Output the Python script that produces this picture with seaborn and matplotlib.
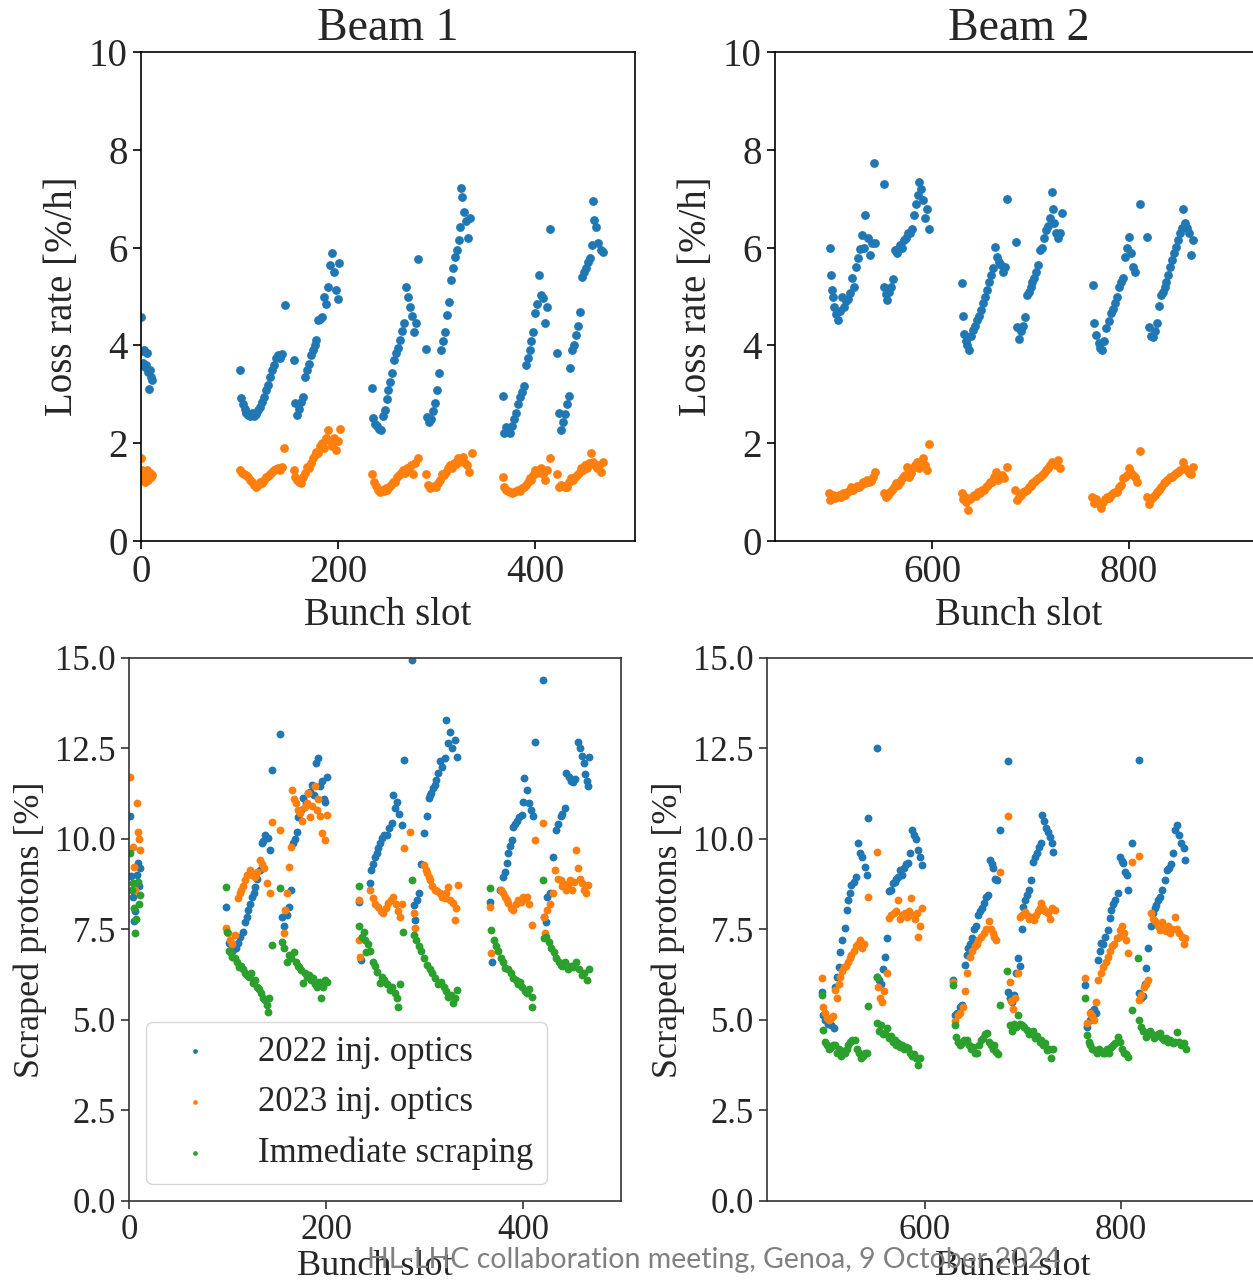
import matplotlib
matplotlib.use("Agg")
import matplotlib.pyplot as plt
import seaborn as sns

# ---- Beam 1, loss rate [%/h] ----
b1_loss22_x = ([0, 1, 2, 3, 4, 5, 6, 7, 8, 9, 10, 11]
               + [100, 101, 103, 105, 107, 109, 111, 113, 115, 117, 119, 121, 123, 125, 127, 129, 131, 133, 135, 137, 139, 141, 143, 146]
               + [155, 156, 158, 160, 162, 164, 166, 168, 170, 172, 174, 176, 178, 180, 182, 184, 186, 188, 190, 192, 194, 196, 198, 200, 201]
               + [234, 235, 237, 239, 241, 243, 245, 247, 249, 251, 253, 255, 257, 259, 261, 263, 265, 267, 269, 271, 273, 275, 277, 279, 281]
               + [289, 290, 292, 294, 296, 298, 300, 302, 304, 306, 308, 310, 312, 314, 316, 318, 320, 322, 324, 325, 326, 328, 330, 332, 334]
               + [367, 368, 370, 372, 374, 376, 378, 380, 382, 384, 386, 388, 390, 392, 394, 396, 398, 400, 402, 404, 406, 408, 410, 412, 415]
               + [422, 424, 426, 428, 430, 432, 434, 435, 437, 439, 441, 443, 445, 447, 449, 451, 453, 455, 457, 458, 459, 461, 463, 466, 469])
b1_loss22_y = ([4.59, 3.88, 3.65, 3.9, 3.55, 3.6, 3.85, 3.45, 3.11, 3.5, 3.35, 3.3]
               + [3.50, 2.92, 2.8, 2.7, 2.62, 2.58, 2.55, 2.62, 2.55, 2.6, 2.68, 2.75, 2.85, 2.95, 3.09, 3.2, 3.36, 3.5, 3.6, 3.74, 3.8, 3.75, 3.82, 4.83]
               + [3.70, 2.82, 2.58, 2.7, 2.85, 2.95, 3.36, 3.5, 3.63, 3.8, 3.91, 4.0, 4.11, 4.52, 4.55, 4.59, 5.0, 4.85, 5.2, 5.64, 5.88, 5.5, 5.14, 4.95, 5.68]
               + [3.12, 2.51, 2.4, 2.35, 2.3, 2.27, 2.55, 2.68, 2.9, 3.09, 3.25, 3.43, 3.7, 3.84, 3.95, 4.11, 4.3, 4.45, 5.2, 5.0, 4.79, 4.6, 4.28, 4.45, 5.76]
               + [3.92, 2.54, 2.44, 2.5, 2.65, 2.82, 3.09, 3.43, 3.91, 4.1, 4.28, 4.62, 4.89, 5.34, 5.58, 5.8, 5.95, 6.15, 6.43, 7.21, 7.04, 6.73, 6.55, 6.19, 6.60]
               + [2.97, 2.20, 2.33, 2.25, 2.2, 2.35, 2.5, 2.61, 2.8, 2.95, 3.05, 3.16, 3.6, 3.75, 3.91, 4.1, 4.28, 4.66, 4.85, 5.44, 5.03, 4.96, 4.45, 4.79, 6.38]
               + [3.85, 2.61, 2.27, 2.43, 2.6, 2.8, 2.97, 3.53, 3.91, 4.0, 4.21, 4.4, 4.69, 5.4, 5.5, 5.58, 5.7, 5.78, 6.05, 6.96, 6.56, 6.43, 6.1, 5.95, 5.92])

b1_loss23_x = ([0, 1, 2, 3, 4, 5, 6, 7, 8, 9, 10, 11]
               + [100, 102, 104, 107, 109, 111, 113, 115, 117, 119, 121, 123, 125, 127, 129, 131, 133, 135, 137, 139, 141, 143, 145]
               + [155, 156, 158, 160, 162, 164, 166, 168, 170, 172, 174, 176, 178, 180, 182, 184, 186, 188, 190, 192, 194, 196, 198, 200, 202]
               + [234, 236, 238, 240, 242, 244, 246, 248, 250, 252, 254, 256, 258, 260, 262, 264, 266, 268, 270, 272, 274, 276, 278, 281]
               + [289, 291, 293, 295, 297, 299, 301, 303, 305, 307, 309, 311, 313, 315, 317, 319, 321, 323, 325, 327, 329, 331, 333, 336]
               + [367, 368, 370, 372, 374, 376, 378, 380, 382, 384, 386, 388, 390, 392, 394, 396, 398, 400, 402, 404, 406, 408, 410, 412, 415]
               + [422, 424, 426, 428, 430, 432, 434, 436, 438, 440, 442, 444, 446, 448, 450, 452, 454, 456, 458, 460, 462, 464, 466, 469])
b1_loss23_y = ([1.70, 1.45, 1.4, 1.3, 1.2, 1.35, 1.45, 1.25, 1.3, 1.4, 1.3, 1.35]
               + [1.45, 1.4, 1.38, 1.35, 1.3, 1.25, 1.2, 1.15, 1.11, 1.15, 1.2, 1.18, 1.25, 1.3, 1.33, 1.38, 1.42, 1.45, 1.48, 1.5, 1.45, 1.52, 1.90]
               + [1.45, 1.3, 1.25, 1.2, 1.18, 1.3, 1.4, 1.52, 1.5, 1.6, 1.7, 1.75, 1.83, 1.8, 1.95, 2.0, 1.9, 2.1, 2.27, 2.05, 1.95, 2.1, 1.86, 2.05, 2.30]
               + [1.38, 1.2, 1.12, 1.05, 1.01, 1.05, 1.03, 1.08, 1.05, 1.1, 1.15, 1.21, 1.2, 1.3, 1.35, 1.4, 1.45, 1.4, 1.5, 1.45, 1.55, 1.38, 1.6, 1.69]
               + [1.38, 1.15, 1.08, 1.1, 1.12, 1.1, 1.18, 1.25, 1.38, 1.35, 1.42, 1.5, 1.55, 1.5, 1.6, 1.58, 1.69, 1.62, 1.65, 1.72, 1.6, 1.55, 1.42, 1.79]
               + [1.31, 1.1, 1.05, 1.02, 1.0, 0.98, 1.0, 1.02, 1.05, 1.03, 1.08, 1.1, 1.15, 1.2, 1.28, 1.25, 1.35, 1.45, 1.4, 1.45, 1.5, 1.38, 1.24, 1.45, 1.69]
               + [1.37, 1.1, 1.15, 1.12, 1.1, 1.11, 1.2, 1.28, 1.25, 1.3, 1.35, 1.4, 1.49, 1.45, 1.55, 1.5, 1.6, 1.79, 1.62, 1.55, 1.5, 1.55, 1.42, 1.62])

# ---- Beam 2, loss rate [%/h] ----
b2_loss22_x = ([496, 497, 498, 499, 501, 503, 505, 507, 509, 511, 513, 515, 517, 519, 521, 523, 525, 527, 529, 531, 532, 535, 537, 539, 542, 541, 551]
               + [551, 553, 554, 556, 558, 560, 562, 564, 566, 568, 570, 572, 574, 576, 578, 580, 582, 584, 586, 587, 589, 591, 593, 595, 597]
               + [630, 631, 632, 634, 636, 638, 640, 642, 644, 646, 648, 650, 652, 654, 656, 658, 660, 662, 664, 666, 668, 670, 672, 674, 676, 685]
               + [686, 688, 690, 692, 694, 696, 698, 700, 702, 704, 706, 708, 710, 712, 714, 716, 718, 720, 722, 723, 724, 726, 728, 730, 732]
               + [763, 764, 766, 769, 771, 773, 775, 777, 780, 782, 784, 786, 788, 790, 792, 794, 796, 798, 800, 802, 804, 806, 811, 818]
               + [820, 822, 824, 826, 828, 830, 832, 834, 836, 838, 840, 842, 844, 846, 848, 850, 852, 854, 855, 857, 859, 861, 863, 865])
b2_loss22_y = ([6.0, 5.44, 5.13, 5.0, 4.79, 4.65, 4.52, 4.7, 5.0, 4.79, 4.9, 4.95, 5.07, 5.37, 5.2, 5.61, 5.78, 5.98, 6.26, 6.0, 6.67, 6.19, 5.85, 6.1, 6.09, 7.74, 7.30]
               + [5.20, 5.05, 4.93, 5.1, 5.2, 5.35, 5.95, 5.9, 6.0, 6.05, 6.0, 6.15, 6.2, 6.29, 6.3, 6.39, 6.67, 6.9, 7.08, 7.35, 7.2, 6.97, 6.6, 6.80, 6.39]
               + [5.27, 4.60, 4.23, 4.1, 4.0, 3.91, 4.2, 4.31, 4.4, 4.52, 4.6, 4.72, 4.86, 5.0, 5.13, 5.3, 5.44, 5.58, 6.02, 5.8, 5.7, 5.65, 5.5, 5.61, 7.0, 6.11]
               + [4.38, 4.14, 4.3, 4.4, 4.59, 5.03, 5.1, 5.2, 5.3, 5.37, 5.5, 5.64, 5.95, 6.0, 6.2, 6.36, 6.45, 6.60, 7.13, 6.80, 6.5, 6.3, 6.19, 6.3, 6.70]
               + [5.24, 4.45, 4.21, 4.04, 3.95, 3.91, 4.1, 4.35, 4.5, 4.66, 4.75, 4.86, 5.0, 5.20, 5.3, 5.37, 5.81, 6.0, 6.22, 5.9, 5.61, 5.5, 6.89, 6.22]
               + [4.38, 4.2, 4.18, 4.3, 4.45, 4.8, 5.03, 5.1, 5.2, 5.3, 5.44, 5.6, 5.75, 5.9, 6.02, 6.15, 6.29, 6.4, 6.78, 6.50, 6.4, 6.3, 5.85, 6.15])

b2_loss23_x = ([495, 496, 498, 500, 502, 504, 506, 508, 510, 512, 514, 516, 518, 520, 522, 524, 526, 528, 530, 532, 534, 536, 538, 540, 542]
               + [551, 553, 555, 557, 559, 561, 563, 565, 567, 569, 571, 573, 575, 577, 579, 581, 583, 585, 587, 589, 591, 593, 595, 597]
               + [630, 631, 633, 635, 637, 639, 641, 643, 645, 647, 649, 651, 653, 655, 657, 659, 661, 663, 665, 667, 669, 671, 673, 676]
               + [684, 686, 688, 690, 692, 694, 696, 698, 700, 702, 704, 706, 708, 710, 712, 714, 716, 718, 720, 722, 724, 726, 728, 730]
               + [762, 764, 766, 768, 770, 772, 774, 776, 778, 780, 782, 784, 786, 788, 790, 792, 794, 796, 798, 800, 802, 804, 806, 808, 811]
               + [818, 820, 822, 824, 826, 828, 830, 832, 835, 837, 839, 842, 844, 846, 848, 850, 852, 855, 857, 859, 861, 863, 865])
b2_loss23_y = ([0.98, 0.83, 0.9, 0.95, 0.88, 0.92, 0.95, 0.9, 0.98, 0.95, 1.0, 1.02, 1.11, 1.05, 1.08, 1.12, 1.1, 1.15, 1.2, 1.18, 1.25, 1.2, 1.22, 1.3, 1.42]
               + [0.98, 0.9, 0.95, 1.0, 1.05, 1.1, 1.18, 1.15, 1.2, 1.25, 1.3, 1.35, 1.52, 1.3, 1.4, 1.5, 1.55, 1.62, 1.5, 1.6, 1.69, 1.55, 1.45, 1.98]
               + [0.99, 0.85, 0.9, 0.8, 0.63, 0.85, 0.9, 0.95, 0.92, 1.0, 0.98, 1.04, 1.05, 1.1, 1.15, 1.21, 1.2, 1.3, 1.42, 1.25, 1.3, 1.35, 1.28, 1.52]
               + [1.04, 0.83, 0.9, 0.95, 1.0, 1.02, 1.05, 1.1, 1.12, 1.18, 1.2, 1.25, 1.28, 1.31, 1.35, 1.4, 1.45, 1.5, 1.55, 1.62, 1.6, 1.55, 1.65, 1.5]
               + [0.91, 0.78, 0.85, 0.8, 0.75, 0.67, 0.8, 0.85, 0.9, 0.88, 0.95, 0.98, 1.0, 1.01, 1.1, 1.15, 1.28, 1.3, 1.35, 1.49, 1.4, 1.35, 1.3, 1.2, 1.84]
               + [0.91, 0.75, 0.85, 0.9, 0.95, 1.0, 1.05, 1.1, 1.18, 1.2, 1.25, 1.31, 1.3, 1.35, 1.4, 1.42, 1.45, 1.62, 1.5, 1.45, 1.4, 1.38, 1.52])

# ---- Beam 1, scraped protons [%] ----
b1_scr22_x = ([1, 2, 4, 5, 6, 8, 9, 10, 11]
              + [98, 101, 104, 106, 109, 111, 113, 116, 118, 120, 121, 123, 125, 127, 128, 130, 133, 135, 136, 138, 141, 143, 145, 153]
              + [155, 157, 160, 162, 164, 166, 168, 170, 172, 175, 177, 180, 182, 184, 186, 188, 190, 192, 194, 196, 198, 199, 201]
              + [233, 235, 245, 246, 248, 250, 252, 253, 255, 257, 259, 262, 264, 267, 268, 270, 272, 274, 277, 279, 287]
              + [289, 290, 292, 294, 296, 299, 302, 304, 306, 307, 309, 311, 312, 314, 316, 318, 321, 322, 324, 326, 328, 331, 333]
              + [366, 368, 377, 380, 382, 384, 385, 387, 389, 390, 392, 394, 396, 399, 400, 401, 404, 406, 408, 410, 412, 420]
              + [421, 423, 424, 427, 430, 433, 435, 438, 440, 443, 444, 447, 449, 451, 453, 456, 458, 460, 462, 463, 465, 466, 467])
b1_scr22_y = ([10.64, 8.97, 8.4, 7.72, 8.0, 9.0, 9.33, 8.7, 9.2]
              + [8.13, 7.12, 7.0, 6.93, 7.0, 7.12, 7.3, 7.44, 7.7, 7.85, 8.03, 8.2, 8.41, 8.5, 8.68, 8.9, 9.14, 9.88, 9.95, 10.11, 10.02, 9.70, 11.9, 12.9]
              + [7.85, 7.6, 7.9, 8.13, 8.6, 9.88, 10.0, 10.2, 10.6, 10.8, 11.12, 11.0, 11.26, 11.3, 11.5, 11.2, 12.09, 12.23, 11.45, 11.6, 11.1, 11.03, 11.72]
              + [8.27, 6.66, 8.78, 9.14, 9.3, 9.51, 9.6, 9.74, 9.9, 10.02, 10.1, 10.11, 10.3, 10.43, 11.22, 10.85, 11.03, 10.7, 10.39, 12.18, 14.93]
              + [8.18, 7.75, 8.3, 8.50, 9.3, 10.16, 10.62, 11.12, 11.2, 11.26, 11.4, 11.5, 11.63, 11.81, 12.14, 12.0, 12.23, 13.29, 12.64, 12.96, 12.5, 12.73, 12.27]
              + [8.25, 6.61, 8.59, 8.96, 9.1, 9.33, 9.60, 9.8, 9.97, 10.34, 10.4, 10.5, 10.6, 10.66, 11.03, 11.68, 11.35, 11.0, 10.8, 10.62, 12.69, 14.39]
              + [7.85, 7.7, 8.41, 8.5, 9.5, 10.25, 10.4, 10.62, 10.7, 10.85, 11.81, 11.7, 11.6, 11.58, 11.65, 12.69, 12.5, 12.3, 12.09, 11.8, 11.6, 11.45, 12.27])

b1_scr23_x = ([1, 4, 5, 6, 8, 9, 10, 11]
              + [98, 100, 102, 105, 108, 111, 113, 114, 116, 118, 120, 123, 125, 128, 130, 133, 135, 137, 140, 143, 145, 153]
              + [157, 158, 160, 162, 164, 165, 167, 169, 172, 174, 176, 179, 181, 182, 184, 186, 189, 191, 192, 194, 196, 199, 201]
              + [233, 233, 234, 245, 248, 250, 253, 256, 258, 261, 263, 266, 268, 271, 273, 275, 277, 279, 285]
              + [289, 290, 299, 301, 302, 304, 306, 308, 311, 313, 316, 318, 321, 322, 324, 326, 329, 331, 332, 334]
              + [366, 367, 378, 380, 382, 384, 385, 388, 390, 393, 395, 398, 400, 402, 404, 406, 409, 412, 420]
              + [421, 422, 424, 427, 430, 432, 435, 438, 440, 442, 444, 446, 448, 450, 452, 454, 456, 458, 460, 462, 464, 466])
b1_scr23_y = ([11.72, 9.79, 9.23, 8.59, 11.0, 10.2, 10.0, 9.7]
              + [7.53, 7.4, 7.2, 7.1, 7.35, 8.36, 8.5, 8.59, 8.7, 8.87, 9.0, 9.14, 9.0, 8.96, 9.1, 9.42, 9.3, 9.2, 8.78, 8.50, 10.48, 10.25]
              + [7.39, 8.04, 8.5, 9.23, 9.79, 11.35, 11.1, 10.99, 10.8, 10.71, 10.5, 10.89, 11.0, 11.26, 10.6, 10.9, 11.45, 10.8, 11.1, 10.62, 10.16, 9.97, 10.66]
              + [8.31, 7.21, 6.75, 8.59, 8.36, 8.2, 8.13, 8.0, 7.95, 8.1, 8.22, 8.3, 8.41, 8.2, 8.0, 7.85, 8.2, 9.74, 10.20]
              + [7.95, 7.55, 9.28, 9.15, 9.05, 8.95, 8.87, 8.7, 8.59, 8.55, 8.50, 8.4, 8.36, 8.5, 8.68, 8.3, 8.22, 7.76, 8.1, 8.73]
              + [8.13, 6.84, 8.59, 8.5, 8.41, 8.3, 8.22, 8.1, 8.04, 8.2, 8.31, 8.25, 8.4, 8.35, 8.41, 8.2, 7.62, 9.97, 10.43]
              + [7.85, 7.4, 8.04, 8.2, 8.5, 9.14, 8.9, 8.87, 8.7, 8.75, 8.59, 8.7, 8.87, 8.6, 8.8, 9.70, 9.19, 8.9, 8.78, 8.6, 8.5, 8.73])

b1_scrim_x = ([1, 3, 4, 5, 6, 7, 9, 10, 11]
              + [98, 99, 101, 103, 105, 108, 110, 112, 114, 116, 118, 120, 122, 124, 126, 128, 130, 132, 134, 136, 138, 140, 141, 142, 145]
              + [153, 155, 157, 160, 162, 164, 167, 169, 171, 173, 175, 177, 179, 181, 183, 185, 187, 189, 191, 193, 195, 197, 199, 201]
              + [233, 233, 236, 238, 240, 241, 243, 245, 248, 250, 252, 255, 257, 259, 262, 265, 267, 270, 272, 273, 275]
              + [278, 287, 289, 291, 294, 296, 299, 302, 305, 308, 311, 314, 317, 320, 322, 324, 327, 329, 331, 333]
              + [366, 367, 370, 373, 375, 378, 380, 382, 385, 388, 390, 393, 395, 397, 399, 402, 404, 406, 409, 409]
              + [420, 421, 423, 426, 428, 431, 433, 436, 438, 440, 443, 446, 449, 451, 454, 457, 460, 462, 465, 467])
b1_scrim_y = ([9.6, 8.6, 8.78, 8.1, 7.39, 7.8, 8.8, 8.2, 8.45]
              + [8.67, 7.44, 6.9, 6.84, 6.75, 6.70, 6.6, 6.47, 6.5, 6.4, 6.3, 6.24, 6.2, 6.3, 6.01, 6.1, 5.9, 5.85, 5.74, 5.6, 5.55, 5.41, 5.23, 5.6, 7.07]
              + [8.64, 7.16, 7.0, 6.61, 6.8, 6.7, 6.89, 6.6, 6.5, 6.45, 6.38, 6.01, 6.3, 6.2, 6.25, 6.1, 6.15, 6.0, 5.9, 6.05, 5.60, 5.9, 6.1, 6.06]
              + [8.71, 7.60, 7.3, 7.44, 7.2, 6.89, 7.1, 6.9, 6.61, 6.5, 6.33, 6.01, 6.2, 6.1, 6.0, 5.83, 5.9, 5.74, 5.6, 5.37, 6.0]
              + [7.42, 8.87, 7.35, 7.2, 7.03, 6.9, 6.7, 6.52, 6.4, 6.3, 6.15, 6.0, 6.05, 5.9, 5.8, 5.64, 5.7, 5.46, 5.6, 5.83]
              + [8.65, 7.49, 7.2, 7.03, 6.9, 6.7, 6.6, 6.43, 6.4, 6.3, 6.15, 6.1, 6.0, 6.05, 5.92, 5.8, 5.75, 5.85, 5.64, 5.37]
              + [8.87, 7.26, 7.3, 7.16, 7.0, 6.89, 6.7, 6.6, 6.52, 6.5, 6.6, 6.4, 6.5, 6.47, 6.6, 6.4, 6.24, 6.3, 6.10, 6.4])

# ---- Beam 2, scraped protons [%] ----
b2_scr22_x = ([495, 496, 498, 501, 504, 507, 508, 510, 512, 513, 515, 518, 520, 522, 524, 525, 528, 530, 532, 534, 536, 539, 541, 542, 551]
              + [551, 553, 555, 557, 559, 561, 563, 565, 567, 569, 571, 573, 575, 577, 579, 581, 583, 585, 587, 589, 591, 593, 595, 597]
              + [629, 631, 633, 636, 638, 641, 643, 644, 646, 648, 650, 652, 654, 656, 658, 660, 662, 664, 666, 668, 670, 672, 674, 677, 685]
              + [685, 687, 689, 691, 693, 695, 697, 699, 700, 702, 704, 706, 708, 710, 712, 714, 716, 718, 720, 722, 724, 726, 728, 730, 731]
              + [763, 765, 768, 770, 773, 775, 777, 779, 780, 782, 784, 787, 789, 790, 792, 794, 797, 799, 801, 802, 804, 806, 807, 811, 819]
              + [819, 821, 823, 825, 826, 828, 831, 833, 835, 836, 838, 840, 842, 845, 847, 849, 851, 853, 855, 857, 859, 861, 864, 865])
b2_scr22_y = ([5.78, 5.14, 5.0, 4.9, 4.85, 4.77, 5.92, 6.2, 6.47, 6.89, 7.2, 7.53, 8.04, 8.3, 8.50, 8.73, 8.8, 8.96, 9.88, 9.60, 9.5, 9.23, 9.0, 10.57, 12.5]
              + [6.20, 6.1, 6.0, 6.4, 6.75, 7.26, 8.55, 8.6, 8.78, 8.8, 8.9, 8.95, 9.14, 9.0, 9.2, 9.3, 9.33, 9.6, 10.25, 10.1, 10.0, 9.70, 9.5, 9.28]
              + [6.1, 5.14, 5.2, 5.37, 5.4, 6.52, 6.8, 6.98, 7.1, 7.26, 7.5, 7.6, 7.90, 8.0, 8.1, 8.22, 8.4, 8.45, 9.42, 9.3, 9.19, 8.9, 8.87, 10.25, 12.14]
              + [5.78, 5.6, 5.5, 5.7, 6.3, 6.70, 6.5, 7.5, 8.13, 8.3, 8.45, 8.6, 8.87, 9.37, 9.5, 9.6, 9.79, 9.9, 10.66, 10.5, 10.3, 10.2, 10.06, 9.9, 9.65]
              + [5.97, 4.8, 5.0, 5.23, 5.3, 5.2, 6.66, 6.9, 7.12, 7.1, 7.3, 7.49, 7.81, 8.04, 8.2, 8.3, 8.50, 9.51, 9.4, 9.33, 9.1, 9.0, 8.59, 9.88, 12.18]
              + [5.74, 5.6, 5.65, 6.0, 6.43, 7.0, 7.6, 7.95, 8.1, 8.18, 8.3, 8.41, 8.6, 8.87, 9.14, 9.2, 9.3, 9.6, 10.25, 10.39, 10.1, 9.9, 9.74, 9.42])

b2_scr23_x = ([495, 496, 498, 500, 502, 504, 506, 508, 510, 512, 513, 515, 517, 519, 522, 524, 525, 528, 530, 532, 534, 536, 538, 542, 551]
              + [552, 554, 556, 558, 561, 563, 565, 568, 570, 573, 575, 577, 580, 582, 584, 586, 588, 590, 592, 593, 595, 597]
              + [629, 631, 634, 636, 639, 641, 643, 646, 648, 651, 653, 654, 657, 660, 662, 665, 667, 669, 671, 673, 677, 685]
              + [687, 688, 690, 692, 695, 697, 699, 702, 704, 706, 708, 711, 713, 715, 717, 719, 721, 723, 726, 728, 730, 733]
              + [763, 765, 768, 771, 773, 775, 777, 780, 782, 785, 787, 789, 791, 793, 796, 798, 799, 801, 803, 805, 807, 811, 819]
              + [819, 821, 824, 826, 828, 831, 833, 835, 838, 840, 842, 844, 846, 848, 850, 852, 855, 857, 859, 862, 864, 865])
b2_scr23_y = ([6.15, 5.37, 5.2, 5.05, 5.0, 5.05, 5.1, 5.83, 5.6, 6.0, 6.20, 6.35, 6.47, 6.5, 6.61, 6.7, 6.80, 6.9, 7.03, 7.1, 7.21, 7.0, 7.1, 8.41, 9.63]
              + [5.92, 5.6, 5.5, 5.8, 6.29, 7.81, 7.9, 7.95, 8.0, 8.31, 7.8, 7.9, 7.95, 7.85, 8.0, 8.36, 7.9, 7.8, 7.95, 7.28, 7.6, 8.08]
              + [6.06, 4.96, 5.14, 5.2, 5.37, 5.8, 6.29, 6.75, 6.9, 7.03, 7.1, 7.21, 7.3, 7.39, 7.5, 7.72, 7.5, 7.4, 7.3, 7.21, 9.10, 10.62]
              + [6.06, 5.51, 5.3, 5.6, 6.29, 7.85, 7.9, 7.99, 7.9, 7.8, 7.85, 7.76, 7.9, 8.0, 8.1, 8.22, 8.1, 8.0, 7.95, 7.8, 8.1, 8.04]
              + [6.15, 4.91, 5.18, 5.1, 5.0, 5.5, 6.10, 6.3, 6.47, 6.6, 6.75, 6.9, 7.03, 7.1, 7.26, 7.3, 7.49, 7.6, 7.4, 7.2, 6.84, 9.37, 9.53]
              + [5.55, 5.7, 5.9, 6.0, 6.10, 7.95, 7.8, 7.72, 7.6, 7.49, 7.7, 7.5, 7.45, 7.6, 7.39, 7.5, 7.85, 7.5, 7.4, 7.30, 7.1, 7.26])

b2_scrim_x = ([495, 496, 498, 500, 502, 504, 506, 508, 510, 512, 514, 516, 518, 520, 522, 524, 526, 529, 531, 533, 535, 537, 539, 541, 542]
              + [551, 551, 553, 555, 557, 559, 561, 563, 565, 567, 569, 571, 573, 575, 577, 579, 581, 583, 585, 587, 589, 591, 593, 595]
              + [629, 631, 632, 634, 636, 638, 640, 643, 645, 647, 649, 651, 653, 655, 657, 659, 661, 663, 665, 667, 669, 671, 673, 675, 677]
              + [684, 687, 689, 691, 693, 695, 697, 699, 701, 704, 706, 708, 710, 712, 714, 717, 719, 721, 723, 725, 727, 729, 731]
              + [763, 765, 767, 769, 771, 774, 776, 778, 780, 782, 784, 786, 788, 790, 792, 794, 797, 799, 801, 803, 805, 807, 811, 818]
              + [819, 821, 823, 826, 828, 830, 832, 834, 836, 838, 840, 842, 844, 846, 848, 850, 853, 855, 857, 859, 861, 864, 866])
b2_scrim_y = ([5.69, 4.72, 4.40, 4.3, 4.2, 4.25, 4.3, 4.31, 4.1, 4.2, 4.0, 4.15, 4.08, 4.2, 4.3, 4.4, 4.45, 4.45, 4.2, 4.1, 3.94, 4.0, 4.1, 4.08, 5.39]
              + [6.20, 4.91, 4.7, 4.85, 4.6, 4.65, 4.77, 4.5, 4.55, 4.4, 4.45, 4.3, 4.35, 4.25, 4.3, 4.2, 4.25, 4.22, 4.1, 4.0, 4.05, 3.94, 3.76, 3.95]
              + [5.97, 4.86, 4.54, 4.4, 4.3, 4.35, 4.45, 4.45, 4.3, 4.2, 4.25, 4.1, 4.08, 4.3, 4.45, 4.5, 4.6, 4.63, 4.4, 4.3, 4.2, 4.3, 4.12, 4.05, 5.41]
              + [6.36, 4.86, 4.7, 4.9, 4.8, 5.14, 4.9, 4.85, 4.8, 4.72, 4.6, 4.65, 4.7, 4.5, 4.55, 4.40, 4.45, 4.3, 4.35, 4.17, 4.2, 3.94, 4.2]
              + [5.60, 4.59, 4.4, 4.3, 4.2, 4.17, 4.1, 4.2, 4.15, 4.1, 4.08, 4.2, 4.1, 4.25, 4.3, 4.35, 4.54, 4.4, 4.2, 4.1, 4.05, 3.99, 5.28, 6.70]
              + [5.0, 4.8, 4.7, 4.54, 4.65, 4.7, 4.6, 4.5, 4.55, 4.6, 4.63, 4.5, 4.45, 4.5, 4.4, 4.45, 4.35, 4.4, 4.68, 4.4, 4.3, 4.35, 4.2])

labels = ["2022 inj. optics", "2023 inj. optics", "Immediate scraping"]
colors = ["#1f77b4", "#ff7f0e", "#2ca02c"]
footer = "HL-LHC collaboration meeting, Genoa, 9 October 2024"

sns.set_style("ticks")
plt.rcParams["font.family"] = ["Liberation Serif", "DejaVu Serif"]

fig = plt.figure(figsize=(12.53, 12.82), dpi=100)
ax_tl = fig.add_axes([0.1125, 0.578, 0.3943, 0.3814])
ax_tr = fig.add_axes([0.6185, 0.578, 0.3895, 0.3814])
ax_bl = fig.add_axes([0.1030, 0.0632, 0.3927, 0.4236])
ax_br = fig.add_axes([0.6121, 0.0632, 0.3927, 0.4236])


def draw(ax, series, size):
    for (xs, ys), label, color in zip(series, labels, colors):
        sns.scatterplot(x=xs, y=ys, ax=ax, color=color, s=size,
                        linewidth=0, label=label, legend=False)


draw(ax_tl, [(b1_loss22_x, b1_loss22_y), (b1_loss23_x, b1_loss23_y)], 40)
draw(ax_tr, [(b2_loss22_x, b2_loss22_y), (b2_loss23_x, b2_loss23_y)], 40)
draw(ax_bl, [(b1_scr22_x, b1_scr22_y), (b1_scr23_x, b1_scr23_y), (b1_scrim_x, b1_scrim_y)], 32)
draw(ax_br, [(b2_scr22_x, b2_scr22_y), (b2_scr23_x, b2_scr23_y), (b2_scrim_x, b2_scrim_y)], 32)

# top row: loss rate
for ax, title, xlim, xt in [(ax_tl, "Beam 1", (0, 501), [0, 200, 400]),
                            (ax_tr, "Beam 2", (440.6, 936), [600, 800])]:
    ax.set_xlim(*xlim)
    ax.set_ylim(0, 10)
    ax.set_xticks(xt)
    ax.set_yticks([0, 2, 4, 6, 8, 10])
    ax.set_title(title, fontsize=33, pad=9)
    ax.set_xlabel("Bunch slot", fontsize=28, labelpad=4)
    ax.set_ylabel("Loss rate [%/h]", fontsize=28, labelpad=6)
    ax.tick_params(labelsize=28, length=6, width=1.2, color="black")
    for sp in ax.spines.values():
        sp.set_visible(True)
        sp.set_linewidth(1.2)
        sp.set_color("black")

# bottom row: scraped protons
for ax, xlim, xt in [(ax_bl, (0, 499.5), [0, 200, 400]),
                     (ax_br, (438.8, 941), [600, 800])]:
    ax.set_xlim(*xlim)
    ax.set_ylim(0, 15)
    ax.set_xticks(xt)
    ax.set_yticks([0, 2.5, 5, 7.5, 10, 12.5, 15])
    ax.set_yticklabels([f"{v:.1f}" for v in [0, 2.5, 5, 7.5, 10, 12.5, 15]])
    ax.set_xlabel("Bunch slot", fontsize=26, labelpad=2)
    ax.set_ylabel("Scraped protons [%]", fontsize=26, labelpad=6)
    ax.tick_params(labelsize=25, length=6, width=1.2, color="#333333")
    for sp in ax.spines.values():
        sp.set_visible(True)
        sp.set_linewidth(1.2)
        sp.set_color("#333333")

ax_bl.legend(loc="lower left", fontsize=25, frameon=True, markerscale=0.6)

fig.text(0.57, 0.017, footer, ha="center", va="center", fontsize=20.5,
         color="#808080", family=["Lato", "DejaVu Sans"], zorder=10)

fig.savefig("out.png", dpi=100)
